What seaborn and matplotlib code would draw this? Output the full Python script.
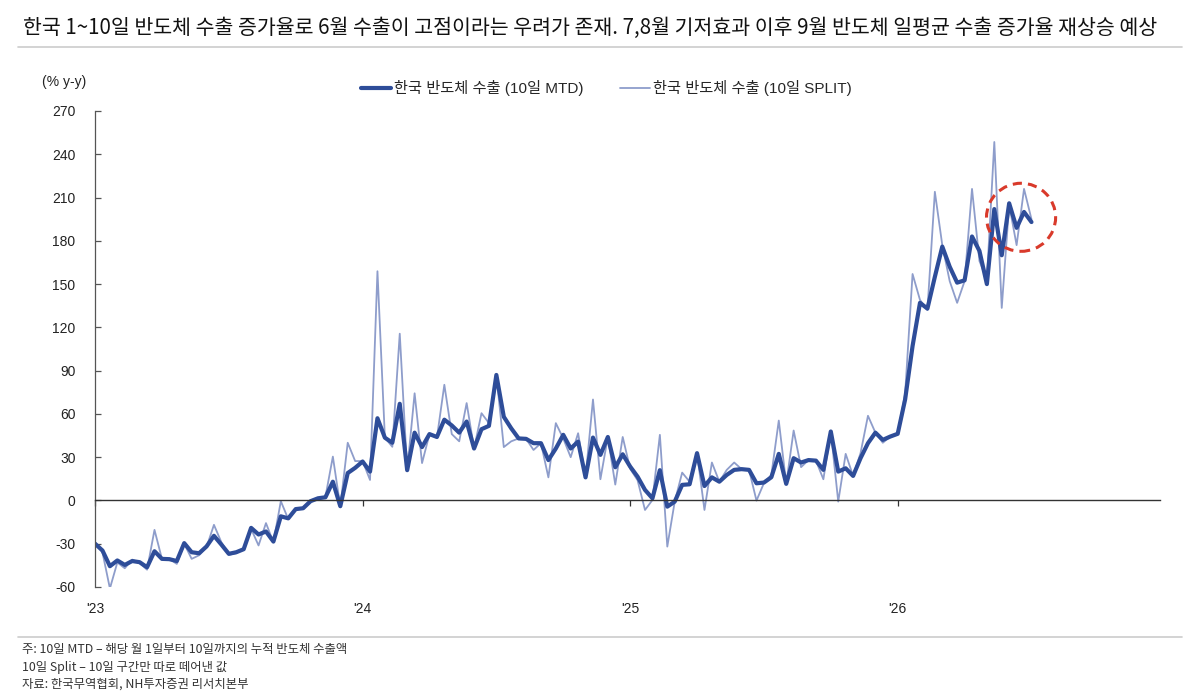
import numpy as np
import pandas as pd
import matplotlib
matplotlib.use("Agg")
import matplotlib.pyplot as plt
import seaborn as sns
from matplotlib.lines import Line2D
from matplotlib.patches import Ellipse

# ---- data (10-day periods, 36 per year, starting Jan 2023) ----
mtd = [-30, -34.7, -45.6, -41.6, -44.7, -42, -42.8, -46.3, -35.2, -40.5,
       -40.7, -42, -29.6, -35.9, -36.6, -31.9, -24.5, -30.6, -37, -35.9,
       -33.8, -19, -23.6, -21.5, -28.5, -11, -12.4, -6, -5.4, -0.5,
       1.5, 2.2, 13, -4, 19, 22.6, 27, 20, 57, 43.5,
       40, 67, 21, 47, 37, 46, 44, 56, 52, 47,
       54.7, 36, 49.4, 51.7, 87, 58, 50, 43, 42.7, 39.7,
       39.7, 28, 36, 45.5, 36, 40.8, 16, 43.6, 31.6, 44,
       23, 32, 23.5, 16.5, 7.3, 1.5, 21, -4.3, -0.8, 10.8,
       11.2, 32.8, 10, 16, 13, 17.7, 21.2, 21.7, 21.2, 11.9,
       12.4, 16.1, 32.3, 11.5, 29.3, 26.3, 28, 27.6, 21.2, 47.8,
       20, 22.3, 17, 29.3, 39.7, 47, 42, 44.3, 46.2, 70,
       107, 137, 133, 155, 176, 162, 151, 152.6, 183, 173,
       150, 202, 170, 206, 189, 200, 193]
split = [-29, -36, -61, -43, -47, -41, -43.5, -48, -20.4, -40.5,
         -40.5, -44, -30, -40.5, -38, -32.4, -16.9, -29, -37.7, -36.6,
         -33, -19.7, -31.2, -15.7, -29, -0.5, -13, -6.5, -5, 0,
         1.5, 2.5, 30.4, -4.3, 40, 27.3, 27.3, 14.2, 158.9, 43.5,
         37.2, 115.6, 20.8, 74.3, 25.9, 46, 43.5, 80.2, 46, 41,
         67.5, 36, 60.5, 53.6, 87, 37, 41, 43, 42.7, 35,
         39.7, 16, 53.6, 43, 30, 46.6, 16, 70, 14.7, 44,
         11, 44, 22, 14, -6.6, 0.3, 45.5, -32, -0.8, 19.3,
         13, 32.8, -6.6, 26.3, 13, 21.2, 26.3, 21.7, 21.2, -0.1,
         12, 17.7, 55.4, 11.5, 48.5, 23.1, 28, 27.6, 14.7, 47.8,
         -0.8, 32.3, 17, 32.8, 58.7, 47, 40, 44.3, 46.2, 74,
         157, 139, 132, 214, 177, 152, 137, 152, 216, 166,
         153, 248.5, 133.5, 205, 177, 216, 195]
year_labels = ["'23", "'24", "'25", "'26"]
periods_per_year = 36
series_names = ["한국 반도체 수출 (10일 MTD)", "한국 반도체 수출 (10일 SPLIT)"]

title = ("한국 1~10일 반도체 수출 증가율로 6월 수출이 고점이라는 우려가 존재. "
         "7,8월 기저효과 이후 9월 반도체 일평균 수출 증가율 재상승 예상")
notes = ["주: 10일 MTD – 해당 월 1일부터 10일까지의 누적 반도체 수출액",
         "10일 Split – 10일 구간만 따로 떼어낸 값",
         "자료: 한국무역협회, NH투자증권 리서치본부"]

# ---- style ----
sns.set_theme(style="white")
plt.rcParams['font.family'] = ['Liberation Sans', 'Noto Sans CJK KR', 'DejaVu Sans']
plt.rcParams['axes.unicode_minus'] = False
cjk = ['Noto Sans CJK KR', 'DejaVu Sans']

fig = plt.figure(figsize=(12, 6.95), dpi=100)
ax = fig.add_axes([0.0792, 0.1554, 0.8875, 0.6849])

df = pd.DataFrame({"period": np.arange(len(mtd)), "mtd": mtd, "split": split})
sns.lineplot(data=df, x="period", y="split", ax=ax, color="#8e9dcb", lw=1.3,
             label=series_names[1])
sns.lineplot(data=df, x="period", y="mtd", ax=ax, color="#2e4d99", lw=3.0,
             label=series_names[0])

ax.set_xlim(0, 143.3)
ax.set_ylim(-60, 270)
ax.set_yticks(np.arange(-60, 271, 30))
ax.set_xlabel("")
ax.set_ylabel("")

for s in ["top", "right"]:
    ax.spines[s].set_visible(False)
ax.spines["left"].set_color("#555555")
ax.spines["left"].set_linewidth(0.9)
ax.spines["bottom"].set_position(("data", 0))
ax.spines["bottom"].set_color("#333333")
ax.spines["bottom"].set_linewidth(1.0)

ticks = [periods_per_year * k for k in range(len(year_labels))]
ax.set_xticks(ticks)
ax.set_xticklabels([])
ax.tick_params(axis="x", direction="out", length=4, width=0.9, color="#333333", bottom=True)
ax.tick_params(axis="y", direction="in", length=4, width=0.9, color="#555555",
               left=True, labelsize=10, labelcolor="#222222", pad=14)

sec = ax.secondary_xaxis(0)
sec.set_xticks(ticks)
sec.set_xticklabels(year_labels, fontsize=10, color="#222222")
sec.tick_params(length=0, pad=11)
sec.spines["bottom"].set_visible(False)

# red dashed circle highlighting latest data
ell = Ellipse((124.6, 196.3), width=9.3, height=47.2, fill=False,
              ec="#d93a2b", ls=(0, (3, 2)), lw=2.2, zorder=5)
ax.add_patch(ell)

# legend
h, l = ax.get_legend_handles_labels()
if ax.legend_:
    ax.legend_.remove()
order = [l.index(series_names[0]), l.index(series_names[1])]
fig.legend([h[i] for i in order], [l[i] for i in order], loc="center",
           bbox_to_anchor=(0.505, 0.873), ncol=2, frameon=False,
           handlelength=2.0, handletextpad=0.15, columnspacing=2.4,
           prop={"family": ['Liberation Sans', 'Noto Sans CJK KR'], "size": 11})

fig.text(0.035, 0.882, "(% y-y)", fontsize=10, color="#222222", va="center")

# title and notes
fig.text(0.019, 0.96, title, fontsize=14.8, family=cjk, color="#111111", va="center")
fig.add_artist(Line2D([0.015, 0.985], [0.932, 0.932], color="#cccccc", lw=1.2))
fig.add_artist(Line2D([0.015, 0.985], [0.083, 0.083], color="#cccccc", lw=1.2))
for k, t in enumerate(notes):
    fig.text(0.018, 1 - (650 + 17 * k) / 695, t, fontsize=8.9, family=cjk,
             color="#333333", va="center")

fig.savefig("out.png", dpi=100)
